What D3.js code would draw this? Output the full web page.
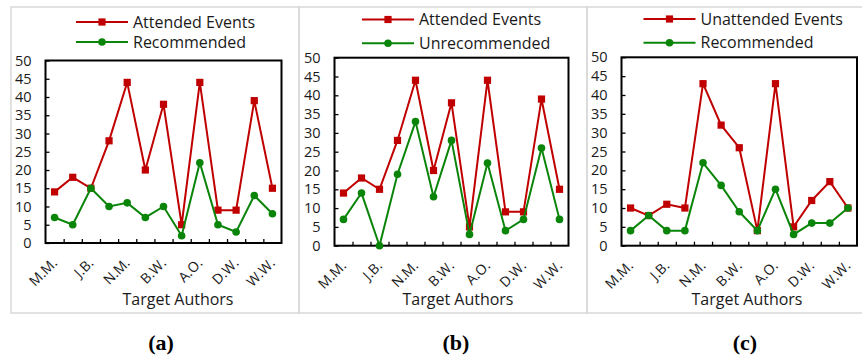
<!DOCTYPE html>
<html>
<head>
<meta charset="utf-8">
<script src="https://cdn.jsdelivr.net/npm/d3@7"></script>
<style>
  html, body { margin: 0; padding: 0; background: #fff; }
  svg { display: block; }
  text { font-family: "Open Sans", "Noto Sans", sans-serif; fill: #1a1a1a; }
</style>
</head>
<body>
<svg id="chart" width="862" height="358"></svg>
<script>
// 13 target authors; only every second name is printed on the axis
const authorCount = 13;
const authorLabels = ["M.M.", "J.B.", "N.M.", "B.W.", "A.O.", "D.W.", "W.W."];
const yTicks = [0, 5, 10, 15, 20, 25, 30, 35, 40, 45, 50];

// (a) attended events vs. recommended
const attendedEvents = [14, 18, 15, 28, 44, 20, 38, 5, 44, 9, 9, 39, 15];
const recommendedA   = [7, 5, 15, 10, 11, 7, 10, 2, 22, 5, 3, 13, 8];
// (b) attended events vs. unrecommended
const unrecommended  = [7, 14, 0, 19, 33, 13, 28, 3, 22, 4, 7, 26, 7];
// (c) unattended events vs. recommended
const unattendedEvents = [10, 8, 11, 10, 43, 32, 26, 4, 43, 5, 12, 17, 10];
const recommendedC     = [4, 8, 4, 4, 22, 16, 9, 4, 15, 3, 6, 6, 10];

const seriesNames = {
  attended: "Attended Events",
  unattended: "Unattended Events",
  recommended: "Recommended",
  unrecommended: "Unrecommended"
};
const captions = ["(a)", "(b)", "(c)"];
const axisTitle = "Target Authors";

const RED = "#c00000";
const GREEN = "#0a850a";

const panels = [
  { box: [11, 7, 288], plot: { l: 45.5, r: 281.5, t: 60.5, b: 243 },
    legendX: 76, legendY: [22, 42], titleX: 178, capX: 161,
    red: { name: seriesNames.attended, values: attendedEvents },
    green: { name: seriesNames.recommended, values: recommendedA } },
  { box: [299, 7, 288], plot: { l: 334.5, r: 568.5, t: 57.7, b: 245.7 },
    legendX: 362, legendY: [19.5, 43.3], titleX: 458, capX: 456,
    red: { name: seriesNames.attended, values: attendedEvents },
    green: { name: seriesNames.unrecommended, values: unrecommended } },
  { box: [587, 7, 290], plot: { l: 621.5, r: 857, t: 57.3, b: 245.7 },
    legendX: 643.5, legendY: [19, 42.7], titleX: 747, capX: 745,
    red: { name: seriesNames.unattended, values: unattendedEvents },
    green: { name: seriesNames.recommended, values: recommendedC } }
];

const svg = d3.select("#chart");
svg.append("rect").attr("width", 862).attr("height", 358).attr("fill", "#fff");

panels.forEach((p, pi) => {
  const g = svg.append("g");
  const [bx, by, bw] = p.box;

  // light grey panel border
  g.append("rect")
    .attr("x", bx).attr("y", by).attr("width", bw).attr("height", 313 - by)
    .attr("fill", "none").attr("stroke", "#d9d9d9").attr("stroke-width", 1.5);

  const x = d3.scaleBand().domain(d3.range(authorCount)).range([p.plot.l, p.plot.r]);
  const cx = i => x(i) + x.bandwidth() / 2;
  const y = d3.scaleLinear().domain([0, 50]).range([p.plot.b, p.plot.t]);

  // y axis: inward ticks, labels to the left
  const yAxis = g.append("g")
    .attr("transform", `translate(${p.plot.l},0)`)
    .call(d3.axisLeft(y).tickValues(yTicks).tickSize(-4).tickPadding(14));
  yAxis.select(".domain").remove();
  yAxis.selectAll("line").attr("stroke", "#000").attr("stroke-width", 1.3);
  yAxis.selectAll("text").attr("font-size", 14.5).attr("fill", "#1a1a1a")
    .attr("font-family", "'Open Sans', sans-serif");

  // x axis: inward ticks at category boundaries
  const xb = d3.scaleLinear().domain([0, authorCount]).range([p.plot.l, p.plot.r]);
  const xAxis = g.append("g")
    .attr("transform", `translate(0,${p.plot.b})`)
    .call(d3.axisBottom(xb).tickValues(d3.range(1, authorCount)).tickSize(-4).tickFormat(""));
  xAxis.select(".domain").remove();
  xAxis.selectAll("line").attr("stroke", "#000").attr("stroke-width", 1.3);

  // category labels on every second author, rotated
  g.selectAll(".xlab").data(authorLabels).join("text")
    .attr("class", "xlab")
    .attr("text-anchor", "end")
    .attr("font-size", 14)
    .attr("transform", (d, k) => `translate(${cx(k * 2) + 3.5},${p.plot.b + 21}) rotate(-45)`)
    .text(d => d);

  // plot frame
  g.append("rect")
    .attr("x", p.plot.l).attr("y", p.plot.t)
    .attr("width", p.plot.r - p.plot.l).attr("height", p.plot.b - p.plot.t)
    .attr("fill", "none").attr("stroke", "#000").attr("stroke-width", 2);

  const line = d3.line().x((d, i) => cx(i)).y(d => y(d));

  // red series (squares)
  g.append("path").datum(p.red.values)
    .attr("d", line).attr("fill", "none").attr("stroke", RED).attr("stroke-width", 2);
  g.selectAll(".sq").data(p.red.values).join("rect")
    .attr("class", "sq")
    .attr("x", (d, i) => cx(i) - 3.6).attr("y", d => y(d) - 3.6)
    .attr("width", 7.2).attr("height", 7.2).attr("fill", RED);

  // green series (circles)
  g.append("path").datum(p.green.values)
    .attr("d", line).attr("fill", "none").attr("stroke", GREEN).attr("stroke-width", 2);
  g.selectAll(".dot").data(p.green.values).join("circle")
    .attr("class", "dot")
    .attr("cx", (d, i) => cx(i)).attr("cy", d => y(d))
    .attr("r", 3.8).attr("fill", GREEN);

  // legend
  const legend = [
    { s: p.red, color: RED, shape: "square", ly: p.legendY[0] },
    { s: p.green, color: GREEN, shape: "circle", ly: p.legendY[1] }
  ];
  legend.forEach(L => {
    g.append("line")
      .attr("x1", p.legendX).attr("x2", p.legendX + 52)
      .attr("y1", L.ly).attr("y2", L.ly)
      .attr("stroke", L.color).attr("stroke-width", 2);
    if (L.shape === "square") {
      g.append("rect").attr("x", p.legendX + 26 - 3.6).attr("y", L.ly - 3.6)
        .attr("width", 7.2).attr("height", 7.2).attr("fill", L.color);
    } else {
      g.append("circle").attr("cx", p.legendX + 26).attr("cy", L.ly)
        .attr("r", 3.8).attr("fill", L.color);
    }
    g.append("text")
      .attr("x", p.legendX + 57).attr("y", L.ly + 5.5)
      .attr("font-size", 16)
      .text(L.s.name);
  });

  // axis title
  g.append("text")
    .attr("x", p.titleX).attr("y", 305)
    .attr("text-anchor", "middle").attr("font-size", 16)
    .text(axisTitle);

  // caption
  g.append("text")
    .attr("x", p.capX).attr("y", 350)
    .attr("text-anchor", "middle")
    .attr("font-family", "'Liberation Serif', 'Times New Roman', serif")
    .attr("font-weight", "bold").attr("font-size", 22)
    .style("font-family", "'Liberation Serif', serif")
    .style("fill", "#000")
    .text(captions[pi]);
});
</script>
</body>
</html>
